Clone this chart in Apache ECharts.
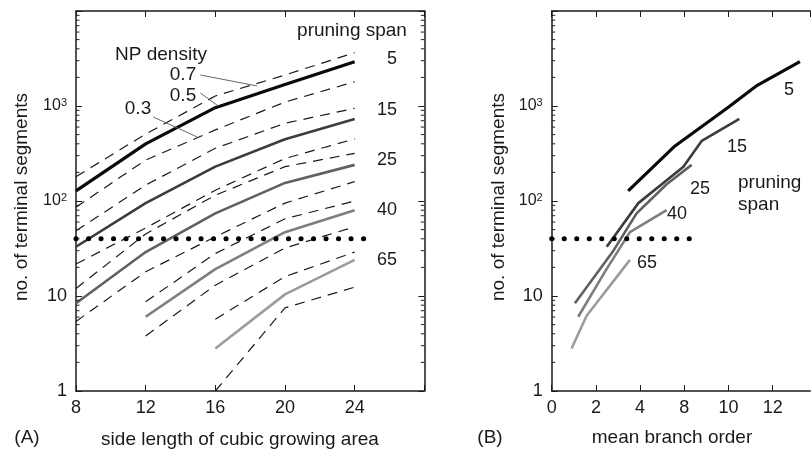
<!DOCTYPE html>
<html><head><meta charset="utf-8">
<script src="https://cdn.jsdelivr.net/npm/echarts@6/dist/echarts.min.js"></script>
<style>html,body{margin:0;padding:0;background:#fff}#c{width:811px;height:450px}</style>
</head><body><div id="c"></div>
<script>
// ---------- Panel A: side length of cubic growing area ----------
const sideLength = [8, 12, 16, 20, 24];
const a5_d07  = [180, 507, 1275, 2120, 3640];
const a5_d05  = [128, 400, 960, 1680, 2930];
const a5_d03  = [86, 270, 560, 1100, 1800];
const a15_d07 = [48.6, 147, 359, 658, 946];
const a15_d05 = [33, 95, 230, 446, 730];
const a15_d03 = [21.7, 52, 130, 280, 450];
const a25_d07 = [12, 45, 115, 230, 317];
const a25_d05 = [8.4, 29, 74, 155, 240];
const a25_d03 = [5.4, 18, 42, 95, 160];
const a40_d07 = [null, 8.7, 28, 65, 100];
const a40_d05 = [null, 6.05, 19.2, 47, 80];
const a40_d03 = [null, 3.8, 13, 32, 53.5];
const a65_d07 = [null, null, 5.7, 16, 29];
const a65_d05 = [null, null, 2.8, 10.4, 24];
const a65_d03 = [null, null, 1.0, 7.5, 12.4];
const thresholdLevel = 40;
const aThresholdX = [8, 24.7];
// leader lines for NP density labels (x, y in data units)
const leader07X = [15.14, 18.4], leader07Y = [2120, 1625];
const leader05X = [15.14, 16.17], leader05Y = [1370, 1000];
const leader03X = [12.43, 14.96], leader03Y = [766, 472];
const aXTicks = ['8', '12', '16', '20', '24'];

// ---------- Panel B: mean branch order ----------
const b5X  = [3.46, 5.58, 7.96, 9.3, 11.23];
const b5Y  = [128, 380, 960, 1650, 2930];
const b15X = [2.49, 3.92, 5.96, 6.79, 8.49];
const b15Y = [33, 95, 230, 430, 730];
const b25X = [1.05, 2.75, 3.84, 5.2, 6.33];
const b25Y = [8.4, 29, 74, 150, 240];
const b40X = [1.2, 2.48, 3.54, 5.2];
const b40Y = [6.05, 19.2, 47, 80];
const b65X = [0.9, 1.58, 3.54];
const b65Y = [2.8, 6.2, 24];
const bThresholdX = [0, 6.4];
const bXTickLabels = ['0', '2', '4', '8', '10', '12'];

const spanColors = {5: '#0a0a0a', 15: '#3c3c3c', 25: '#606060', 40: '#7e7e7e', 65: '#9c9c9c'};
const FONT = 'Liberation Sans, Arial, Helvetica, sans-serif';
const TXT = '#1a1a1a';

function pairs(xs, ys) { const out = []; xs.forEach((x, i) => { if (ys[i] != null) out.push([x, ys[i]]); }); return out; }

function solid(gi, xs, ys, span) {
  return { type: 'line', xAxisIndex: gi * 2, yAxisIndex: gi * 2, data: pairs(xs, ys), symbol: 'none', silent: true,
    lineStyle: { color: spanColors[span], width: span === 5 ? 3.2 : 2.6, join: 'round' }, z: 3 };
}
function dashed(xs, ys) {
  return { type: 'line', xAxisIndex: 0, yAxisIndex: 0, data: pairs(xs, ys), symbol: 'none', silent: true,
    lineStyle: { color: '#1a1a1a', width: 1.2, type: [10, 7] }, z: 2 };
}
function thin(xs, ys) {
  return { type: 'line', xAxisIndex: 0, yAxisIndex: 0, data: pairs(xs, ys), symbol: 'none', silent: true,
    lineStyle: { color: '#666', width: 1 }, z: 4 };
}
function dotted(gi, xs) {
  return { type: 'line', xAxisIndex: gi * 2, yAxisIndex: gi * 2, data: xs.map(x => [x, thresholdLevel]), symbol: 'none', silent: true,
    lineStyle: { color: '#000', width: 5, type: [0.1, 12.4], cap: 'round' }, z: 6 };
}
// minor log ticks (axis decoration)
const minorVals = [];
[1, 10, 100, 1000].forEach(d => { for (let k = 2; k <= 9; k++) minorVals.push(k * d); });
function minorTicks(gi, xEdge, dir) {
  return { type: 'custom', xAxisIndex: gi * 2, yAxisIndex: gi * 2, silent: true, clip: false, z: 5,
    data: minorVals.map(v => [xEdge, v]),
    renderItem: (params, api) => {
      const p = api.coord([api.value(0), api.value(1)]);
      return { type: 'line', shape: { x1: p[0], y1: p[1], x2: p[0] + dir * 3.5, y2: p[1] },
        style: { stroke: '#222', lineWidth: 1 } };
    } };
}

function yLabel(v) {
  if (Math.abs(v - 1) < 1e-6) return '{n|1}';
  if (Math.abs(v - 10) < 1e-6) return '{n|10}';
  if (Math.abs(v - 100) < 1e-3) return '{b|10}{s|2}';
  if (Math.abs(v - 1000) < 1e-2) return '{b|10}{s|3}';
  return '';
}
const yRich = { n: { fontSize: 18, fontFamily: FONT, color: TXT },
  b: { fontSize: 16, fontFamily: FONT, color: TXT, lineHeight: 18 },
  s: { fontSize: 11, fontFamily: FONT, color: TXT, verticalAlign: 'top', lineHeight: 11 } };

const axLine = { show: true, onZero: false, lineStyle: { color: '#1a1a1a', width: 1.5 } };
const axTick = { show: true, inside: true, length: 6, lineStyle: { color: '#1a1a1a', width: 1 } };

const bMax = 11.7;
const grids = [
  { left: 76, top: 11, width: 348.3, height: 380 },
  { left: 551.7, top: 11, width: 258.6, height: 380 }
];
const xAxes = [
  { gridIndex: 0, type: 'value', min: 8, max: 28, interval: 4, position: 'bottom', axisLine: axLine, axisTick: axTick, splitLine: { show: false },
    axisLabel: { formatter: v => { const i = sideLength.indexOf(v); return i >= 0 ? aXTicks[i] : ''; }, fontSize: 18, fontFamily: FONT, color: TXT, margin: 8 } },
  { gridIndex: 0, type: 'value', min: 8, max: 28, interval: 4, position: 'top', axisLine: axLine, axisTick: axTick, splitLine: { show: false }, axisLabel: { show: false } },
  { gridIndex: 1, type: 'value', min: 0, max: bMax, interval: 2, position: 'bottom', axisLine: axLine, axisTick: axTick, splitLine: { show: false },
    axisLabel: { showMaxLabel: false, formatter: v => { const i = Math.round(v / 2); return (Math.abs(v - i * 2) < 1e-6 && i < bXTickLabels.length) ? bXTickLabels[i] : ''; }, fontSize: 18, fontFamily: FONT, color: TXT, margin: 8 } },
  { gridIndex: 1, type: 'value', min: 0, max: bMax, interval: 2, position: 'top', axisLine: axLine, axisTick: axTick, splitLine: { show: false }, axisLabel: { show: false } }
];
const yBase = { type: 'log', logBase: 10, min: 1, max: 10000, axisLine: axLine, axisTick: axTick, splitLine: { show: false } };
const yAxes = [
  Object.assign({}, yBase, { gridIndex: 0, position: 'left', axisLabel: { formatter: yLabel, rich: yRich, margin: 9 } }),
  Object.assign({}, yBase, { gridIndex: 0, position: 'right', axisLabel: { show: false } }),
  Object.assign({}, yBase, { gridIndex: 1, position: 'left', axisLabel: { formatter: yLabel, rich: yRich, margin: 9 } }),
  Object.assign({}, yBase, { gridIndex: 1, position: 'right', axisLine: { show: false }, axisTick: { show: false }, axisLabel: { show: false } })
];

const series = [
  dashed(sideLength, a5_d07), solid(0, sideLength, a5_d05, 5), dashed(sideLength, a5_d03),
  dashed(sideLength, a15_d07), solid(0, sideLength, a15_d05, 15), dashed(sideLength, a15_d03),
  dashed(sideLength, a25_d07), solid(0, sideLength, a25_d05, 25), dashed(sideLength, a25_d03),
  dashed(sideLength, a40_d07), solid(0, sideLength, a40_d05, 40), dashed(sideLength, a40_d03),
  dashed(sideLength, a65_d07), solid(0, sideLength, a65_d05, 65), dashed(sideLength, a65_d03),
  thin(leader07X, leader07Y), thin(leader05X, leader05Y), thin(leader03X, leader03Y),
  dotted(0, aThresholdX),
  solid(1, b5X, b5Y, 5), solid(1, b15X, b15Y, 15), solid(1, b25X, b25Y, 25), solid(1, b40X, b40Y, 40), solid(1, b65X, b65Y, 65),
  dotted(1, bThresholdX),
  minorTicks(0, 8, 1), minorTicks(0, 28, -1), minorTicks(1, 0, 1)
];

function txt(text, x, y, opts) {
  return Object.assign({ type: 'text', x: x, y: y, silent: true,
    style: Object.assign({ text: text, font: '19px ' + FONT, fill: TXT, align: 'center', verticalAlign: 'middle' }, opts || {}) });
}
function rtxt(text, x, y) {
  return { type: 'text', x: x, y: y, rotation: Math.PI / 2, silent: true,
    style: { text: text, font: '19px ' + FONT, fill: TXT, align: 'center', verticalAlign: 'middle' } };
}
const graphics = [
  txt('NP density', 161, 55),
  txt('0.7', 183, 75), txt('0.5', 183, 96), txt('0.3', 138, 109),
  txt('pruning span', 352, 31),
  txt('5', 397, 59, { align: 'right', font: '18px ' + FONT }),
  txt('15', 397, 110, { align: 'right', font: '18px ' + FONT }),
  txt('25', 397, 160, { align: 'right', font: '18px ' + FONT }),
  txt('40', 397, 210.5, { align: 'right', font: '18px ' + FONT }),
  txt('65', 397, 260.5, { align: 'right', font: '18px ' + FONT }),
  txt('5', 789, 90, { font: '18px ' + FONT }),
  txt('15', 737, 147, { font: '18px ' + FONT }),
  txt('25', 700, 189, { font: '18px ' + FONT }),
  txt('40', 677, 214, { font: '18px ' + FONT }),
  txt('65', 647, 263, { font: '18px ' + FONT }),
  txt('pruning', 738, 183, { align: 'left' }),
  txt('span', 738, 205, { align: 'left' }),
  rtxt('no. of terminal segments', 22, 197),
  rtxt('no. of terminal segments', 499, 197),
  txt('side length of cubic growing area', 240, 440),
  txt('mean branch order', 672, 438),
  txt('(A)', 27, 438),
  txt('(B)', 490, 438)
];

const chart = echarts.init(document.getElementById('c'), null, { renderer: 'canvas' });
chart.setOption({
  animation: false,
  backgroundColor: '#fff',
  grid: grids, xAxis: xAxes, yAxis: yAxes, series: series, graphic: graphics
});
</script></body></html>
